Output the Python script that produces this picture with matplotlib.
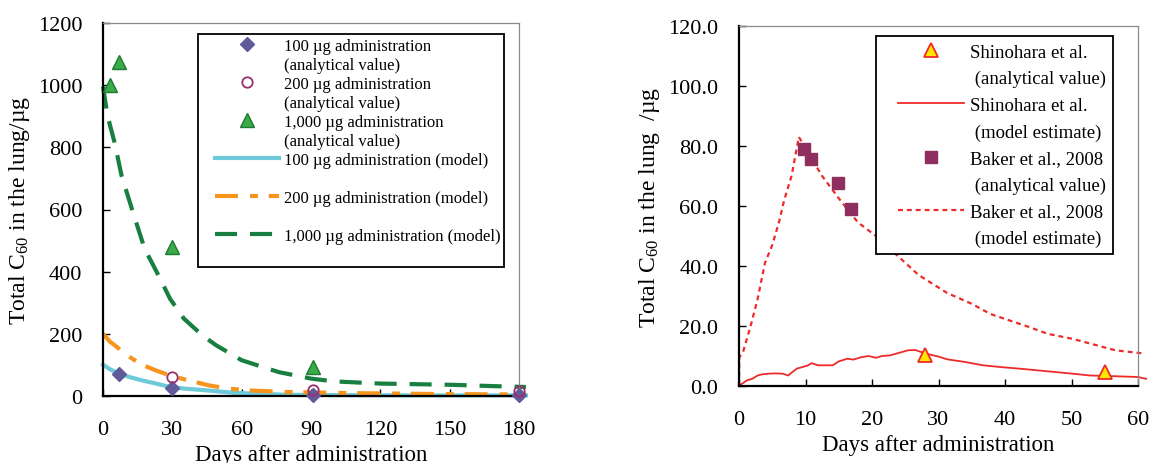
import numpy as np
import matplotlib.pyplot as plt
from matplotlib.lines import Line2D
from matplotlib.legend_handler import HandlerLine2D
from matplotlib.ticker import FormatStrFormatter

plt.rcParams['font.family'] = 'Liberation Serif'
plt.rcParams['mathtext.fontset'] = 'custom'
plt.rcParams['mathtext.rm'] = 'Liberation Serif'
plt.rcParams['mathtext.it'] = 'Liberation Serif:italic'

############################### Datos panel izquierdo ###############################
### Valores analiticos (dias, ug)
dias_obs_100  = [7, 30, 91, 180]
val_obs_100   = [72, 25, 3, 3]
dias_obs_200  = [30, 91, 180]
val_obs_200   = [62, 18, 15]
dias_obs_1000 = [3, 7, 30, 91]
val_obs_1000  = [1000, 1075, 480, 92]

### Modelo
dias_mod_100 = [0, 3, 7, 12, 17, 23, 29, 35, 45, 57, 68, 79, 100, 130, 160, 183]
val_mod_100  = [101, 86, 72, 60, 50, 40, 29, 24, 18, 10, 7, 4, 3, 2, 2, 2]
dias_mod_200 = [0, 3, 7, 11, 15, 19, 23, 29, 37, 46, 54, 63, 79, 110, 150, 183]
val_mod_200  = [200, 175, 152, 128, 109, 94, 82, 66, 50, 34, 24, 18, 13, 9, 6, 5]
dias_mod_1000 = [0, 2, 5, 8, 13, 18, 24, 29, 35, 43, 49, 60, 76, 90, 100, 120, 151, 168, 183]
val_mod_1000  = [995, 900, 816, 710, 590, 474, 388, 313, 249, 195, 163, 115, 77, 56, 47, 40, 36, 32, 29]

############################### Datos panel derecho ###############################
dias_shin_obs = [28, 55]
val_shin_obs  = [10.2, 4.8]
dias_baker_obs = [9.8, 10.9, 14.9, 16.9]
val_baker_obs  = [79, 75.6, 67.7, 59]

dias_shin_mod = [0, 0.5, 1.2, 2, 2.8, 3.5, 4.4, 5.5, 6.6, 7.4, 8.0, 8.7, 9.5, 10.3, 10.9, 11.9,
                 13, 14.1, 15, 16.3, 17.2, 18.4, 19.5, 20.6, 21.5, 22.7, 24, 25.4, 26.5, 28.1,
                 30, 31.3, 34, 36.7, 39.4, 42.1, 46.4, 50.2, 52.8, 56, 60, 61.2]
val_shin_mod  = [0.2, 0.8, 1.9, 2.4, 3.5, 3.9, 4.1, 4.2, 4.1, 3.5, 4.6, 5.8, 6.3, 6.8, 7.6, 6.9,
                 6.9, 6.9, 8.2, 9.1, 8.8, 9.6, 10.0, 9.4, 10.0, 10.2, 11.0, 11.9, 12.0, 10.8,
                 9.8, 8.9, 8.0, 6.9, 6.3, 5.8, 4.9, 4.1, 3.5, 3.3, 3.0, 2.4]
dias_baker_mod = [0, 0.05, 0.6, 1.7, 2.8, 3.9, 5, 6, 6.8, 7.9, 9, 9.8, 12.5, 15.2, 17.9, 20.6,
                  23.8, 27, 31.3, 35, 37.8, 43.7, 46.4, 50.2, 53.9, 56.6, 61]
val_baker_mod  = [0, 9.6, 11.3, 19.6, 29, 41, 47, 54.5, 62, 70, 83, 80, 70, 62, 54.5, 50,
                  43.5, 37, 31, 27.4, 24, 19.6, 17.4, 15.7, 13.5, 11.9, 10.8]

############################### Grafica ###############################
fig = plt.figure(figsize=(11.5, 4.64), dpi=100)
ax1 = fig.add_axes([103/1150, 1-397/464, 416/1150, 373/464])
ax2 = fig.add_axes([739/1150, 1-387/464, 399/1150, 360/464])

col_cian = '#6ecad8'
col_nar  = '#f5951e'
col_verd = '#177f3f'
col_rojo = '#ee2a2a'

### Panel izquierdo
l100, = ax1.plot(dias_mod_100, val_mod_100, '-', color=col_cian, lw=3, clip_on=False)
l200, = ax1.plot(dias_mod_200, val_mod_200, color=col_nar, lw=3,
                 linestyle=(0, (5.5, 2.9, 1.9, 2.6)), clip_on=False)
l1000, = ax1.plot(dias_mod_1000, val_mod_1000, color=col_verd, lw=3,
                  linestyle=(0, (5.3, 3.1)), clip_on=False)
m100, = ax1.plot(dias_obs_100, val_obs_100, 'D', ms=7, color='#5f5b9a', clip_on=False, zorder=5)
m200, = ax1.plot(dias_obs_200, val_obs_200, 'o', ms=7.5, mfc='none', mec='#9b2d6e', mew=1.3,
                 clip_on=False, zorder=5)
m1000, = ax1.plot(dias_obs_1000, val_obs_1000, '^', ms=10, mfc='#3baa48', mec='#1e7a30',
                  mew=1.0, clip_on=False, zorder=5)

ax1.set_xlim(0, 180)
ax1.set_ylim(0, 1200)
ax1.set_xticks(range(0, 181, 30))
ax1.set_yticks(range(0, 1201, 200))
ax1.set_xlabel('Days after administration', fontsize=16.5, labelpad=4)
ax1.set_ylabel('Total C$_{60}$ in the lung/µg', fontsize=17, labelpad=4)

blank = Line2D([], [], linestyle='none')
h1 = [m100, blank, m200, blank, m1000, blank, l100, blank, l200, blank, l1000, blank]
t1 = ['100 µg administration', '(analytical value)',
      '200 µg administration', '(analytical value)',
      '1,000 µg administration', '(analytical value)',
      '100 µg administration (model)', ' ',
      '200 µg administration (model)', ' ',
      '1,000 µg administration (model)', ' ']
leg1 = ax1.legend(h1, t1, loc='upper left', bbox_to_anchor=(0.228, 0.9705), borderaxespad=0,
                  fontsize=12, handlelength=4.6, handletextpad=0.3, labelspacing=0.18,
                  borderpad=0.25, fancybox=False, framealpha=1, edgecolor='black',
                  handler_map={Line2D: HandlerLine2D(xpad=0.8)})
leg1.get_frame().set_linewidth(1.3)

### Panel derecho
ls_shin, = ax2.plot(dias_shin_mod, val_shin_mod, '-', color=col_rojo, lw=1.3, clip_on=False)
ls_baker, = ax2.plot(dias_baker_mod, val_baker_mod, color=col_rojo, lw=1.6,
                     linestyle=(0, (2.2, 1.8)), clip_on=False)
ms_shin, = ax2.plot(dias_shin_obs, val_shin_obs, '^', ms=10, mfc='#ffe600', mec=col_rojo,
                    mew=1.3, clip_on=False, zorder=5)
ms_baker, = ax2.plot(dias_baker_obs, val_baker_obs, 's', ms=9, color='#8e2f5f',
                     clip_on=False, zorder=5)

ax2.set_xlim(0, 60)
ax2.set_ylim(0, 120)
ax2.set_xticks(range(0, 61, 10))
ax2.set_yticks(range(0, 121, 20))
ax2.yaxis.set_major_formatter(FormatStrFormatter('%.1f'))
ax2.set_xlabel('Days after administration', fontsize=16.5, labelpad=4)
ax2.set_ylabel('Total C$_{60}$ in the lung  /µg', fontsize=17, labelpad=4)

h2 = [ms_shin, blank, ls_shin, blank, ms_baker, blank, ls_baker, blank]
t2 = ['Shinohara et al.', ' (analytical value)',
      'Shinohara et al.', ' (model estimate)',
      'Baker et al., 2008', ' (analytical value)',
      'Baker et al., 2008', ' (model estimate)']
leg2 = ax2.legend(h2, t2, loc='upper left', bbox_to_anchor=(0.343, 0.972), borderaxespad=0,
                  fontsize=13.5, handlelength=4.3, handletextpad=0.3, labelspacing=0.5,
                  borderpad=0.4, fancybox=False, framealpha=1, edgecolor='black',
                  handler_map={Line2D: HandlerLine2D(xpad=0.78)})
leg2.get_frame().set_linewidth(1.3)

### Ejes
for ax in (ax1, ax2):
    ax.spines['top'].set_color('#8a8a8a')
    ax.spines['right'].set_color('#8a8a8a')
    ax.spines['top'].set_linewidth(0.9)
    ax.spines['right'].set_linewidth(0.9)
    ax.spines['left'].set_linewidth(1.6)
    ax.spines['bottom'].set_linewidth(1.6)
    ax.tick_params(direction='in', length=5, width=1, labelsize=16)
    ax.tick_params(axis='y', pad=15)
    ax.tick_params(axis='x', pad=17)

plt.savefig('out.png', dpi=100)
